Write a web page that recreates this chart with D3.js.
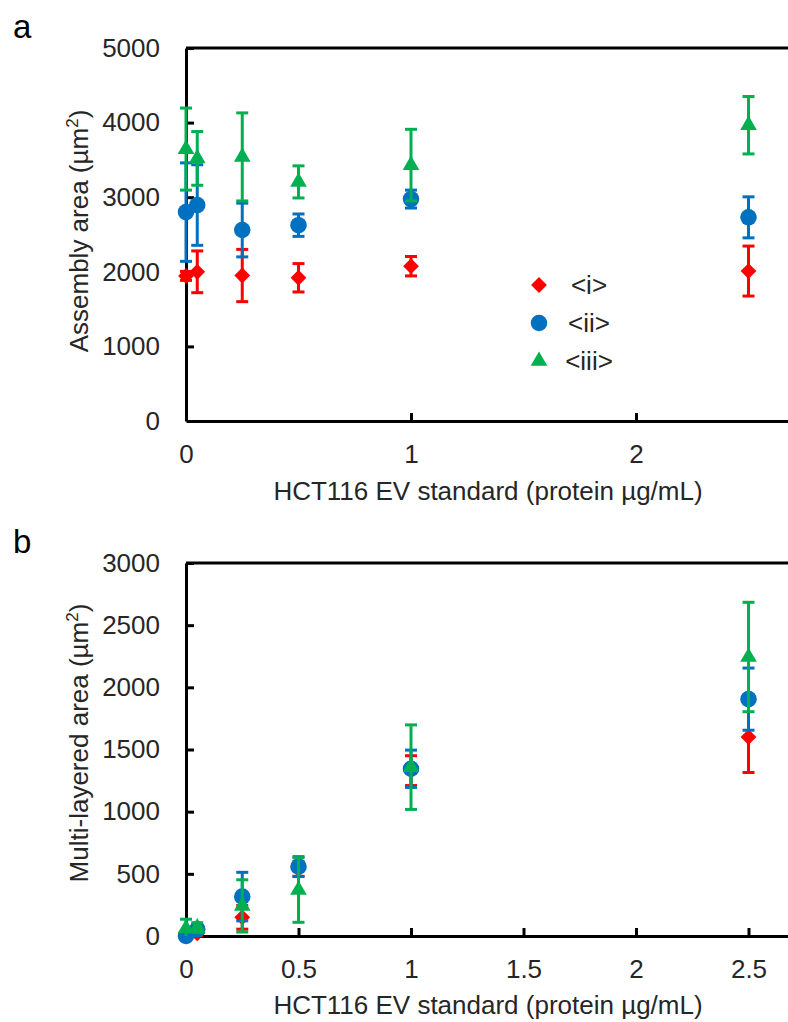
<!DOCTYPE html>
<html>
<head>
<meta charset="utf-8">
<script src="https://cdn.jsdelivr.net/npm/d3@7"></script>
<style>
  body { margin: 0; background: #fff; }
  svg text { font-family: 'Liberation Sans', Arial, sans-serif; fill: #262626; }
</style>
</head>
<body>
<svg class="chart" width="788" height="1022"></svg>
<script>
// concentrations (protein ug/mL)
const conc = [0, 0.05, 0.25, 0.5, 1, 2.5];

// panel a: assembly area (um^2)
const areaI      = [1945, 2000, 1950, 1920, 2075, 2010];
const areaIErr   = [60, 280, 350, 190, 130, 335];
const areaII     = [2800, 2895, 2560, 2625, 2975, 2730];
const areaIIErr  = [660, 540, 360, 150, 120, 275];
const areaIII    = [3645, 3520, 3540, 3205, 3430, 3965];
const areaIIIErr = [550, 360, 590, 215, 480, 385];

// panel b: multi-layered area (um^2)
const multiI      = [20, 22, 150, 540, 1330, 1600];
const multiIErr   = [15, 20, 95, 60, 120, 285];
const multiII     = [0, 54, 317, 558, 1345, 1905];
const multiIIErr  = [10, 30, 195, 80, 150, 250];
const multiIII    = [60, 67, 242, 370, 1358, 2244];
const multiIIIErr = [75, 40, 210, 260, 340, 440];

const seriesNames = ['<i>', '<ii>', '<iii>'];
const colors = ['#ff0000', '#0070c0', '#00b050'];
const shapes = ['diamond', 'circle', 'triangle'];

const fontSize = '26px';
const svg = d3.select('svg.chart');

function markerPath(shape){
  if (shape == 'circle') return d3.symbol().type(d3.symbolCircle).size(215)();
  if (shape == 'triangle') return d3.symbol().type(d3.symbolTriangle).size(120)();
  return d3.symbol().type(d3.symbolSquare).size(125)();
}

function drawPanel(opts){
  const g = svg.append('g');
  const x = d3.scaleLinear().domain(opts.xDomain).range([186, 186 + opts.xDomain[1] * 225]);
  const y = d3.scaleLinear().domain(opts.yDomain).range(opts.yRange);

  // top frame line
  g.append('line')
    .attr('x1', x(0)).attr('x2', 800)
    .attr('y1', y(opts.yDomain[1])).attr('y2', y(opts.yDomain[1]))
    .style('stroke', '#000').style('stroke-width', 3);

  const yAxis = g.append('g')
    .attr('transform', `translate(${x(0)},0)`)
    .call(d3.axisLeft(y).tickValues(opts.yTicks).tickSizeInner(-8).tickSizeOuter(0)
      .tickPadding(26).tickFormat(d3.format('d')));

  const xAxis = g.append('g')
    .attr('transform', `translate(0,${y(0)})`)
    .call(d3.axisBottom(x).tickValues(opts.xTicks).tickSizeInner(-8).tickSizeOuter(0)
      .tickPadding(24).tickFormat(d3.format('')));

  [xAxis, yAxis].forEach(a => {
    a.selectAll('path, line').style('stroke', '#000').style('stroke-width', 3);
    a.selectAll('text').style('font-size', fontSize).style('fill', '#262626')
      .style('font-family', "'Liberation Sans', Arial, sans-serif");
  });
  xAxis.selectAll('text').attr('dy', null).attr('y', null)
    .attr('transform', `translate(0,${opts.xTickBase - y(0)})`);
  xAxis.selectAll('.tick').filter(d => d == 0).select('line').remove();
  yAxis.selectAll('.tick').filter(d => d == 0).select('line').remove();

  g.append('text')
    .text('HCT116 EV standard (protein µg/mL)')
    .attr('x', 488).attr('y', opts.xTitleY)
    .style('text-anchor', 'middle').style('font-size', fontSize);

  const yt = g.append('text')
    .attr('transform', `translate(88,${opts.yTitleMid}) rotate(-90)`)
    .style('text-anchor', 'middle').style('font-size', fontSize);
  yt.append('tspan').text(opts.yTitle + ' (µm');
  yt.append('tspan').text('2').attr('dy', -10).style('font-size', '17px');
  yt.append('tspan').text(')').attr('dy', 10);

  g.append('text').text(opts.label)
    .attr('x', 13).attr('y', opts.labelY)
    .style('font-size', '33px').style('fill', '#000');

  opts.series.forEach((s, si) => {
    const sg = g.append('g');
    const pts = conc.map((c, i) => ({x: c, v: s.values[i], e: s.errors[i]}));

    sg.selectAll('line.err').data(pts).enter().append('line')
      .attr('class', 'err')
      .attr('x1', d => x(d.x)).attr('x2', d => x(d.x))
      .attr('y1', d => y(Math.max(0, d.v - d.e))).attr('y2', d => y(d.v + d.e))
      .style('stroke', colors[si]).style('stroke-width', 3);

    const caps = [];
    pts.forEach(d => {
      caps.push({x: d.x, v: d.v + d.e});
      if (d.v - d.e > 0) caps.push({x: d.x, v: d.v - d.e});
    });
    sg.selectAll('line.cap').data(caps).enter().append('line')
      .attr('class', 'cap')
      .attr('x1', d => x(d.x) - 6).attr('x2', d => x(d.x) + 6)
      .attr('y1', d => y(d.v)).attr('y2', d => y(d.v))
      .style('stroke', colors[si]).style('stroke-width', 3);

    sg.selectAll('path.pt').data(pts).enter().append('path')
      .attr('class', 'pt')
      .attr('d', markerPath(shapes[si]))
      .attr('transform', d => `translate(${x(d.x)},${y(d.v)})` + (shapes[si] == 'diamond' ? ' rotate(45)' : ''))
      .style('fill', colors[si]);
  });

  return {x, y, g};
}

const a = drawPanel({
  xDomain: [0, 2.7], xTicks: [0, 1, 2],
  yDomain: [0, 5000], yRange: [421, 48], yTicks: [0, 1000, 2000, 3000, 4000, 5000],
  yTitle: 'Assembly area', yTitleMid: 231, xTickBase: 463, xTitleY: 500,
  label: 'a', labelY: 38,
  series: [
    {values: areaI, errors: areaIErr},
    {values: areaII, errors: areaIIErr},
    {values: areaIII, errors: areaIIIErr}
  ]
});

drawPanel({
  xDomain: [0, 2.7], xTicks: [0, 0.5, 1, 1.5, 2, 2.5],
  yDomain: [0, 3000], yRange: [936, 563], yTicks: [0, 500, 1000, 1500, 2000, 2500, 3000],
  yTitle: 'Multi-layered area', yTitleMid: 743, xTickBase: 978, xTitleY: 1014,
  label: 'b', labelY: 553,
  series: [
    {values: multiI, errors: multiIErr},
    {values: multiII, errors: multiIIErr},
    {values: multiIII, errors: multiIIIErr}
  ]
});

// legend for panel a
const legend = a.g.append('g');
seriesNames.forEach((name, i) => {
  const ly = 285 + i * 38;
  legend.append('path')
    .attr('d', markerPath(shapes[i]))
    .attr('transform', `translate(539,${ly})` + (shapes[i] == 'diamond' ? ' rotate(45)' : ''))
    .style('fill', colors[i]);
  legend.append('text').text(name)
    .attr('x', 589).attr('y', ly).attr('dy', '0.35em')
    .style('text-anchor', 'middle').style('font-size', fontSize);
});
</script>
</body>
</html>
